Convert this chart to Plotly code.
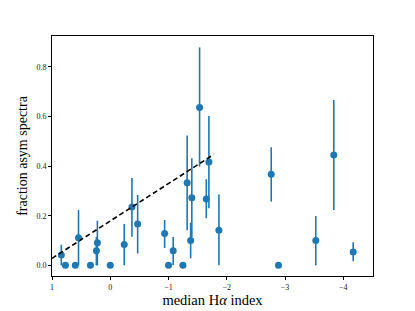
import numpy as np
import plotly.graph_objects as go

# median H-alpha index per object
halpha_index = [0.84, 0.77, 0.60, 0.545, 0.34, 0.238, 0.221, 0.0, -0.24, -0.372,
                -0.47, -0.933, -1.0, -1.08, -1.247, -1.32, -1.38, -1.40, -1.533,
                -1.648, -1.693, -1.865, -2.763, -2.888, -3.528, -3.837, -4.17]
# fraction of asymmetric spectra
frac_asym = [0.042, 0.0, 0.0, 0.111, 0.0, 0.059, 0.091, 0.0, 0.084, 0.235,
             0.167, 0.128, 0.0, 0.059, 0.0, 0.333, 0.10, 0.273, 0.637,
             0.268, 0.417, 0.142, 0.367, 0.0, 0.10, 0.445, 0.054]
err_plus = [0.041, 0.0, 0.0, 0.112, 0.0, 0.055, 0.089, 0.0, 0.083, 0.117,
            0.117, 0.055, 0.0, 0.055, 0.0, 0.191, 0.072, 0.159, 0.242,
            0.079, 0.185, 0.144, 0.109, 0.0, 0.099, 0.222, 0.039]
err_minus = [0.042, 0.0, 0.0, 0.111, 0.0, 0.059, 0.091, 0.0, 0.084, 0.120,
             0.119, 0.058, 0.0, 0.059, 0.0, 0.191, 0.072, 0.159, 0.239,
             0.078, 0.187, 0.142, 0.110, 0.0, 0.10, 0.222, 0.038]

# linear fit (dashed line)
fit_slope = -0.151
fit_intercept = 0.179
fit_x = [1.0, -1.775]

x_ticks = [1, 0, -1, -2, -3, -4]
x_ticktext = ["1", "0", "\u22121", "\u22122", "\u22123", "\u22124"]
y_ticks = [0.0, 0.2, 0.4, 0.6, 0.8]
y_ticktext = ["0.0", "0.2", "0.4", "0.6", "0.8"]

C0 = "#1f77b4"
FONT = "Liberation Serif"

fig = go.Figure()
fig.add_trace(go.Scatter(
    x=halpha_index, y=frac_asym, mode="markers",
    marker=dict(color=C0, size=7),
    error_y=dict(type="data", array=err_plus, arrayminus=err_minus,
                 color=C0, thickness=1.6, width=0, symmetric=False),
    showlegend=False,
))
fx = np.array(fit_x)
fig.add_trace(go.Scatter(
    x=fx, y=fit_intercept + fit_slope * fx, mode="lines",
    line=dict(color="black", width=1.6, dash="5px,3px"),
    showlegend=False,
))

axis_common = dict(
    showgrid=False, zeroline=False, showline=True, linecolor="black",
    linewidth=1, mirror=True, ticks="outside", ticklen=3, tickwidth=0.8,
    tickcolor="black", tickfont=dict(family=FONT, size=8, color="#222"),
    automargin=False,
)
# page body has an 8px margin, so the figure is sized/offset to compensate
fig.update_layout(
    width=407, height=303,
    margin=dict(l=44, r=42, t=28, b=35),
    paper_bgcolor="white", plot_bgcolor="white",
    font=dict(family=FONT, color="black"),
    xaxis=dict(range=[1.0, -4.51], tickvals=x_ticks, ticktext=x_ticktext,
               title=dict(text="median H<i>α</i> index",
                          font=dict(family=FONT, size=14.5), standoff=2),
               **axis_common),
    yaxis=dict(range=[-0.043, 0.925], tickvals=y_ticks, ticktext=y_ticktext,
               title=dict(text="fraction asym spectra",
                          font=dict(family=FONT, size=14), standoff=5),
               **axis_common),
)
fig.write_html("out.html")
